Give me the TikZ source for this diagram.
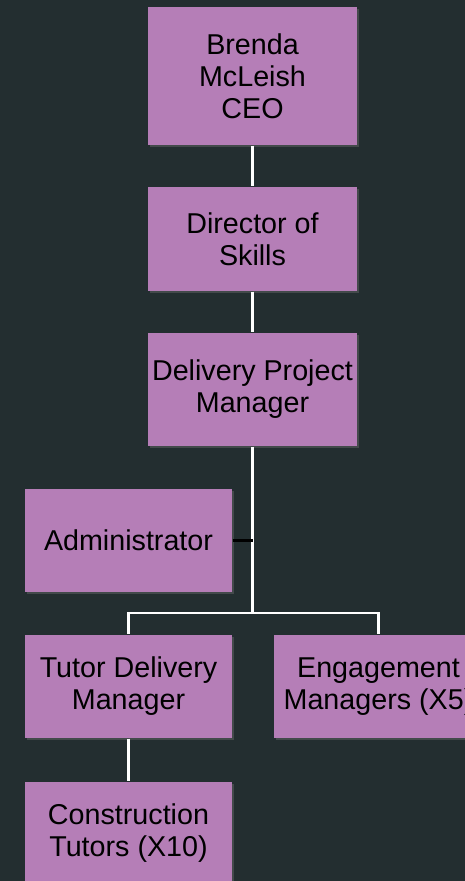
\documentclass[tikz,border=0pt]{standalone}
\usepackage{fontspec}
\setmainfont{Liberation Sans}
\usetikzlibrary{shadows}
\definecolor{bgdark}{HTML}{232E30}
\definecolor{boxpurple}{HTML}{B57EB7}

\begin{document}
\begin{tikzpicture}[x=0.025cm, y=-0.025cm, thick,
  box/.style={rectangle, fill=boxpurple, text=black, align=center, inner sep=0pt,
    minimum width=5.225cm, minimum height=2.575cm,
    font=\fontsize{20.4}{22.8}\selectfont,
    drop shadow={shadow xshift=1.5pt, shadow yshift=-1.5pt, opacity=0.35}},
  link/.style={draw=white, line width=1.8pt}]
\fill[bgdark] (0,0) rectangle (465,881);
\useasboundingbox (0,0) rectangle (465,881);
\clip (0,0) rectangle (465,881);

\node [box, minimum height=3.45cm] (p1) at (252.5,76) {Brenda\\McLeish\\CEO};
\node [box, minimum height=2.6cm] (p2) at (252.5,239) {Director of\\Skills};
\node [box, minimum height=2.825cm] (p3) at (252.5,389.5) {Delivery Project\\Manager};
\node [box, minimum width=5.175cm] (p4) at (128.5,540.5) {Administrator};
\node [box, minimum width=5.175cm] (p5) at (128.5,686.5) {Tutor Delivery\\Manager};
\node [box] (p6) at (378.5,686.5) {Engagement\\Managers (X5)};
\node [box, minimum width=5.175cm] (p7) at (128.5,833.5) {Construction\\Tutors (X10)};
\coordinate (s1) at (252.5,613);

\draw[link] (p1) -- (p2);
\draw[link] (p2) -- (p3);
\draw[link] (p3) -- (s1);
\draw[link] (s1) -| (p5);
\draw[link] (s1) -| (p6);
\draw[link] (p5) -- (p7);
\draw[black, line width=2.6pt] (p4.east) -- (p4.east -| s1);
\end{tikzpicture}
\end{document}
